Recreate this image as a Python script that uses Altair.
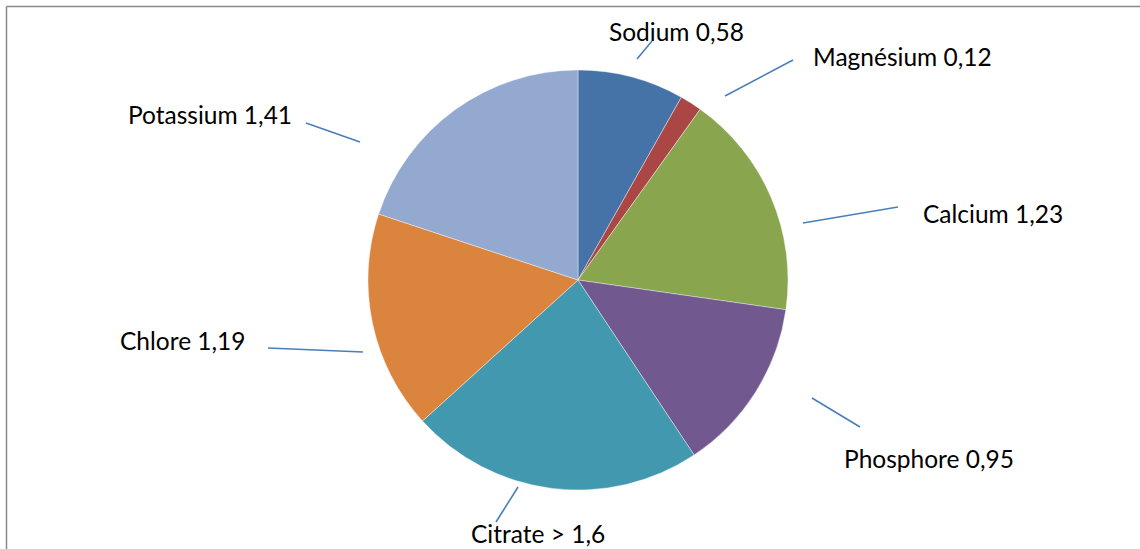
import altair as alt
import pandas as pd

# Data
names = ["Sodium", "Magnésium", "Calcium", "Phosphore", "Citrate", "Chlore", "Potassium"]
values = [0.58, 0.12, 1.23, 0.95, 1.6, 1.19, 1.41]
labels = ["Sodium 0,58", "Magnésium 0,12", "Calcium 1,23", "Phosphore 0,95",
          "Citrate > 1,6", "Chlore 1,19", "Potassium 1,41"]
colors = ["#4572A7", "#AA4643", "#89A54E", "#71588F", "#4198AF", "#DB843D", "#93A9CF"]

# Annotation layout (pixel positions of the dragged data labels and their leader lines)
label_x = [609, 813, 923, 844, 471, 120, 128]
label_y = [41, 66, 223, 468, 543, 350, 124]
lead_x1 = [637, 725, 803, 812, 518, 268, 306]
lead_y1 = [59, 96, 223, 398, 487, 348, 123]
lead_x2 = [652, 793, 898, 860, 496, 363, 360]
lead_y2 = [41, 60, 207, 427, 522, 352, 142]

W, H = 1140, 549
CX, CY, R = 578, 280, 210

df = pd.DataFrame({
    "name": names, "value": values, "label": labels, "idx": list(range(len(names))),
    "lx": label_x, "ly": label_y,
    "x1": lead_x1, "y1": lead_y1, "x2": lead_x2, "y2": lead_y2,
})

base = alt.Chart(df)
one = alt.Chart(pd.DataFrame({"a": [0]}))

frame_top = one.mark_rule(color="#898989", strokeWidth=1.5).encode(
    x=alt.value(6.5), x2=alt.value(W + 20), y=alt.value(6.5)
)
frame_left = one.mark_rule(color="#898989", strokeWidth=1.5).encode(
    x=alt.value(6.5), y=alt.value(6.5), y2=alt.value(H + 20)
)

pie = base.mark_arc(outerRadius=R, x=CX, y=CY, stroke="white", strokeWidth=0.4).encode(
    theta=alt.Theta("value:Q", stack=True),
    order=alt.Order("idx:Q"),
    color=alt.Color("name:N", scale=alt.Scale(domain=names, range=colors), legend=None),
)

leaders = base.mark_rule(color="#4A7EBB", strokeWidth=1.6).encode(
    x=alt.X("x1:Q", scale=None, axis=None),
    y=alt.Y("y1:Q", scale=None, axis=None),
    x2="x2:Q",
    y2="y2:Q",
)

texts = base.mark_text(
    align="left", baseline="alphabetic", font="Lato", fontSize=24.5, color="#000000"
).encode(
    x=alt.X("lx:Q", scale=None, axis=None),
    y=alt.Y("ly:Q", scale=None, axis=None),
    text="label:N",
)

chart = alt.layer(frame_top, frame_left, pie, leaders, texts).properties(
    width=W, height=H, autosize=alt.AutoSizeParams(type="none"), padding=0,
    background="white"
).configure_view(stroke=None)

chart.save("out.html", embed_options={"renderer": "svg", "actions": False})
